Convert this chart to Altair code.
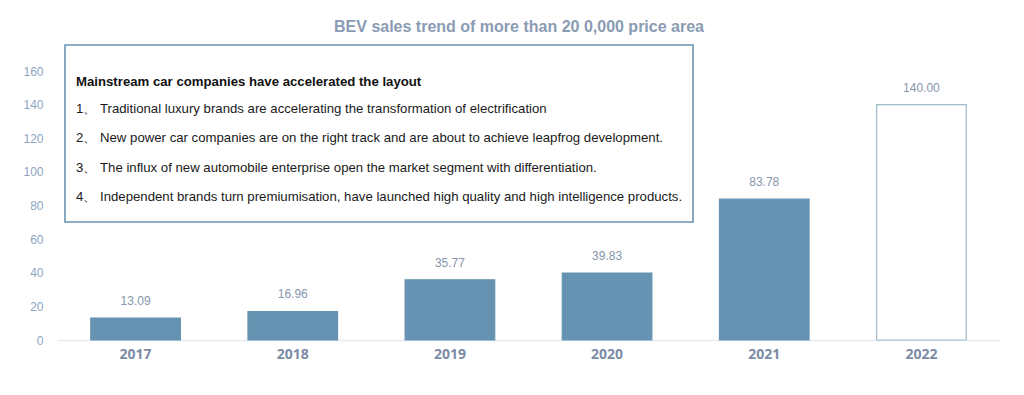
import altair as alt
import pandas as pd

years = ["2017", "2018", "2019", "2020", "2021", "2022"]
sales = [13.09, 16.96, 35.77, 39.83, 83.78, 140.00]
kind = ["actual", "actual", "actual", "actual", "actual", "forecast"]
y_ticks = [0, 20, 40, 60, 80, 100, 120, 140, 160]

chart_title = "BEV sales trend of more than 20 0,000 price area"
box_title = "Mainstream car companies have accelerated the layout"
box_lines = [
    "1、 Traditional luxury brands are accelerating the transformation of electrification",
    "2、 New power car companies are on the right track and are about to achieve leapfrog development.",
    "3、 The influx of new automobile enterprise open the market segment with differentiation.",
    "4、 Independent brands turn premiumisation, have launched high quality and high intelligence products.",
]

df = pd.DataFrame({"year": years, "sales": sales, "kind": kind})
df["label"] = [f"{v:.2f}" for v in sales]

FONT = "Liberation Sans"
W, H = 943, 269

x = alt.X("year:N", sort=years, title=None,
          scale=alt.Scale(paddingInner=0.43, paddingOuter=0.215),
          axis=alt.Axis(labelAngle=0, labelFont="Open Sans", labelFontSize=14,
                        labelFontWeight="bold", labelColor="#7c8ba6", labelPadding=7,
                        ticks=False, domainColor="#e6ebf2", domainWidth=1.5))
y = alt.Y("sales:Q", title=None,
          scale=alt.Scale(domain=[0, 160], nice=False),
          axis=alt.Axis(values=y_ticks, grid=False, domain=False, ticks=False,
                        labelFont=FONT, labelFontSize=12, labelColor="#8da5c2",
                        labelPadding=14))

base = alt.Chart(df)

bars = base.mark_bar(strokeWidth=1.2).encode(
    x=x, y=y,
    color=alt.Color("kind:N", legend=None,
                    scale=alt.Scale(domain=["actual", "forecast"], range=["#6693b1", "#ffffff"])),
    stroke=alt.Stroke("kind:N", legend=None,
                      scale=alt.Scale(domain=["actual", "forecast"], range=["#6693b1", "#9dbbcd"])),
)

labels = base.mark_text(dy=-10, font=FONT, fontSize=12, color="#8596ae", baseline="bottom").encode(
    x=x, y=y, text="label:N"
)

title_mark = alt.Chart(pd.DataFrame({"t": [chart_title]})).mark_text(
    align="center", baseline="middle", font=FONT, fontSize=16, fontWeight="bold",
    color="#8a9bb4", clip=False
).encode(x=alt.value(462), y=alt.value(-44), text="t:N")

box = alt.Chart(pd.DataFrame({"a": [0]})).mark_rect(
    fill="white", stroke="#6a93b0", strokeWidth=1.6, clip=False
).encode(x=alt.value(8), x2=alt.value(636), y=alt.value(-26), y2=alt.value(151))

head = alt.Chart(pd.DataFrame({"t": [box_title]})).mark_text(
    align="left", baseline="middle", font=FONT, fontSize=13.2, fontWeight="bold", color="#111111"
).encode(x=alt.value(19), y=alt.value(11), text="t:N")

body = alt.Chart(pd.DataFrame({"t": ["\n".join(box_lines)]})).mark_text(
    align="left", baseline="top", font=FONT, fontSize=13.2, color="#1a1a1a",
    lineBreak="\n", lineHeight=29.3
).encode(x=alt.value(19), y=alt.value(32), text="t:N")

chart = alt.layer(bars, labels, title_mark, box, head, body).properties(
    width=W, height=H,
    background="white",
    padding={"left": 49, "top": 63, "right": 10, "bottom": 40},
    autosize=alt.AutoSizeParams(type="none"),
).configure_view(strokeWidth=0, stroke="transparent")

chart.save("out.html", embed_options={"renderer": "svg", "actions": False})
